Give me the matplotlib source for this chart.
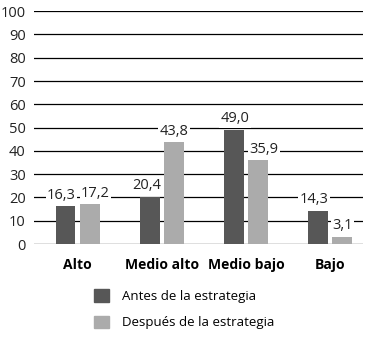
import numpy as np
import matplotlib
matplotlib.use("Agg")
import matplotlib.pyplot as plt
from matplotlib.patches import Patch

plt.rcParams['font.family'] = ['Open Sans', 'DejaVu Sans']

# datos
categorias = ["Alto", "Medio alto", "Medio bajo", "Bajo"]
antes = [16.3, 20.4, 49.0, 14.3]
despues = [17.2, 43.8, 35.9, 3.1]
series_nombres = ["Antes de la estrategia", "Después de la estrategia"]
y_ticks = [0, 10, 20, 30, 40, 50, 60, 70, 80, 90, 100]

c_oscuro = "#575757"
c_claro = "#ababab"

fig = plt.figure(figsize=(3.7, 3.38), dpi=100)
ax = fig.add_axes([0.092, 0.278, 0.889, 0.689])

x = np.arange(len(categorias))
w = 0.235
off = 0.145

b1 = ax.bar(x - off, antes, w, color=c_oscuro, zorder=3)
b2 = ax.bar(x + off, despues, w, color=c_claro, zorder=3)

# pequeños desplazamientos horizontales de las etiquetas (puntos)
dx_antes = [-3, -2, 1, -3]
dx_despues = [4, 0, 4, 0]

for rects, vals, dxs in ((b1, antes, dx_antes), (b2, despues, dx_despues)):
    for r, v, dx in zip(rects, vals, dxs):
        ax.annotate(f"{v:.1f}".replace(".", ","),
                    (r.get_x() + r.get_width() / 2, r.get_height()),
                    xytext=(dx, 2.5), textcoords="offset points",
                    ha="center", va="bottom", fontsize=10.5, color="#222222",
                    zorder=4,
                    bbox=dict(boxstyle="square,pad=0.1", fc="white", ec="none"))

ax.set_ylim(0, 100)
ax.set_xlim(-0.52, 3.39)
ax.set_yticks(y_ticks)
ax.yaxis.grid(True, color="black", linewidth=0.9, zorder=0)
ax.set_axisbelow(True)
for s in ax.spines.values():
    s.set_visible(False)
ax.tick_params(axis="y", length=0, pad=6, labelsize=10.5, labelcolor="#222222")
ax.tick_params(axis="x", length=0, pad=10, labelsize=10)
ax.set_xticks(x)
ax.set_xticklabels(categorias, fontweight="bold")

handles = [Patch(color=c_oscuro), Patch(color=c_claro)]
fig.legend(handles, series_nombres, loc="upper left", bbox_to_anchor=(0.24, 0.16),
           frameon=False, fontsize=9.5, handlelength=1.1, handleheight=1.1,
           labelspacing=0.95, handletextpad=1.0, borderaxespad=0)

fig.savefig("out.png", dpi=100)
